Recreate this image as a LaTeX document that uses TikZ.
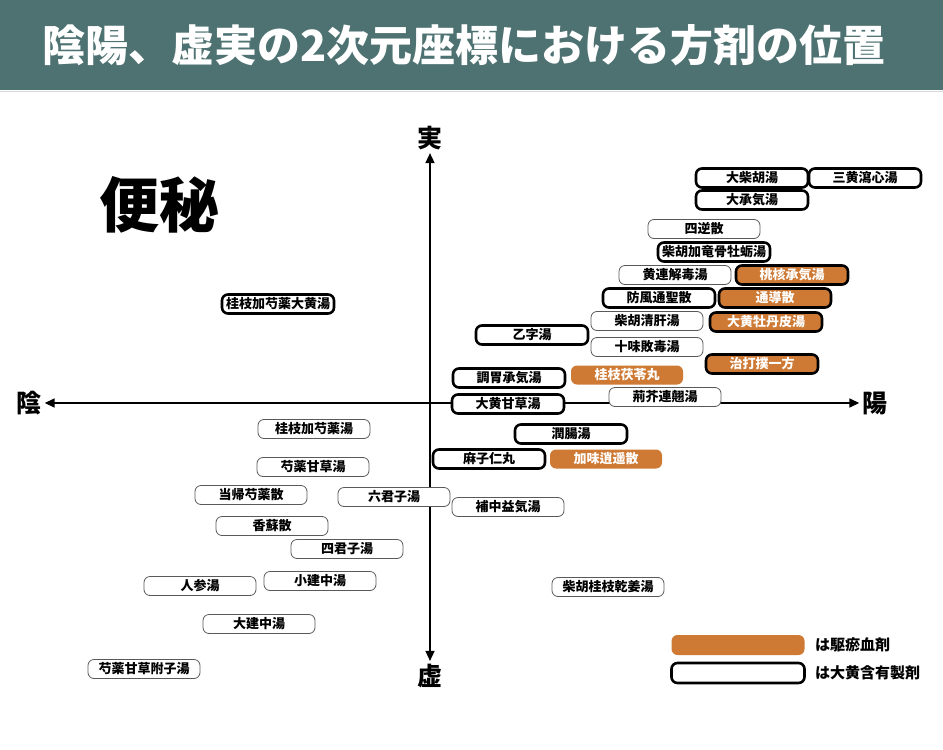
\documentclass[tikz,border=0pt]{standalone}
\usepackage{fontspec}
\setmainfont{Noto Sans CJK JP}
\usetikzlibrary{arrows.meta}
\definecolor{bar}{RGB}{78,113,113}
\definecolor{ketsu}{RGB}{206,121,52}
\tikzset{
hozai/.style={rounded corners=6pt,minimum width=112pt,minimum height=19pt,inner sep=0pt,fill=white,font=\fontsize{13}{13}\selectfont\bfseries},
usui/.style={hozai,draw=black!65,line width=0.8pt},
daio/.style={hozai,draw=black,line width=2.6pt},
oketsu/.style={hozai,fill=ketsu,text=white},
oketsudaio/.style={daio,fill=ketsu,text=white},
jiku/.style={line width=1.6pt,{Triangle[length=10pt,width=9pt]}-{Triangle[length=10pt,width=9pt]}},
jikulabel/.style={font=\fontsize{25}{25}\selectfont\bfseries,inner sep=3pt},
hanrei/.style={font=\fontsize{15}{15}\selectfont\bfseries,anchor=west,inner sep=0pt}
}
\begin{document}
\begin{tikzpicture}[x=1pt,y=-1pt]
\useasboundingbox (0,0) rectangle (943,750);
\fill[bar] (0,0) rectangle (943,90);
\draw[black!15,line width=1.5pt] (0,91.5)--(943,91.5);
\node[text=white,font=\fontsize{43}{43}\selectfont\bfseries] (title) at (464,45) {陰陽、虚実の2次元座標における方剤の位置};
\node[font=\fontsize{60}{60}\selectfont\bfseries] (benpi) at (159,205) {便秘};
\node[jikulabel] (jitsu) at (430,138) {実};
\node[jikulabel] (kyo) at (430,676) {虚};
\node[jikulabel] (yin) at (29,403) {陰};
\node[jikulabel] (yang) at (875,403) {陽};
\draw[jiku] (yin)--(yang);
\draw[jiku] (kyo)--(jitsu);
\foreach \n/\x/\y/\t in {daisaiko/752/178/大柴胡湯,sano/865/178/三黄瀉心湯,daijoki/752/200/大承気湯,
  saikoryukotsu/714/252/柴胡加竜骨牡蛎湯,bofu/659/298/防風通聖散,otsuji/532/335/乙字湯,
  choijoki/509/378/調胃承気湯,daiokanzo/508/404/大黄甘草湯,junchou/571/434/潤腸湯,
  mashinin/489/459/麻子仁丸,keishidaio/278/304/桂枝加芍薬大黄湯}
  \node[daio] (\n) at (\x,\y) {\t};
\foreach \n/\x/\y/\t in {tokaku/792/275/桃核承気湯,tsudo/775/298/通導散,
  botanpi/766/322/大黄牡丹皮湯,chidaboku/762/364/治打撲一方}
  \node[oketsudaio] (\n) at (\x,\y) {\t};
\foreach \n/\x/\y/\t in {keibuku/627/375/桂枝茯苓丸,kami/606/459/加味逍遥散}
  \node[oketsu] (\n) at (\x,\y) {\t};
\foreach \n/\x/\y/\t in {shigyaku/704/229/四逆散,oren/675/275/黄連解毒湯,saikoseikan/647/321/柴胡清肝湯,
  jumi/647/347/十味敗毒湯,keigai/665/397/荊芥連翹湯,hochu/508/507/補中益気湯,
  rikkunshi/394/497/六君子湯,saikokeishikan/608/587/柴胡桂枝乾姜湯,
  keishishaku/314/429/桂枝加芍薬湯,shakukan/313/467/芍薬甘草湯,toki/251/495/当帰芍薬散,
  koso/272/526/香蘇散,shikunshi/347/549/四君子湯,ninjin/200/586/人参湯,
  shokenchu/320/581/小建中湯,daikenchu/259/624/大建中湯,shakukanbushi/144/669/芍薬甘草附子湯}
  \node[usui] (\n) at (\x,\y) {\t};
\node[oketsu,minimum width=133pt,minimum height=20pt] (hanreiketsu) at (738,645) {};
\node[daio,minimum width=133pt,minimum height=20pt] (hanreidaio) at (738,673) {};
\node[hanrei] (hanreiketsutext) at (815,645) {は駆瘀血剤};
\node[hanrei] (hanreidaiotext) at (815,673) {は大黄含有製剤};
\end{tikzpicture}
\end{document}
